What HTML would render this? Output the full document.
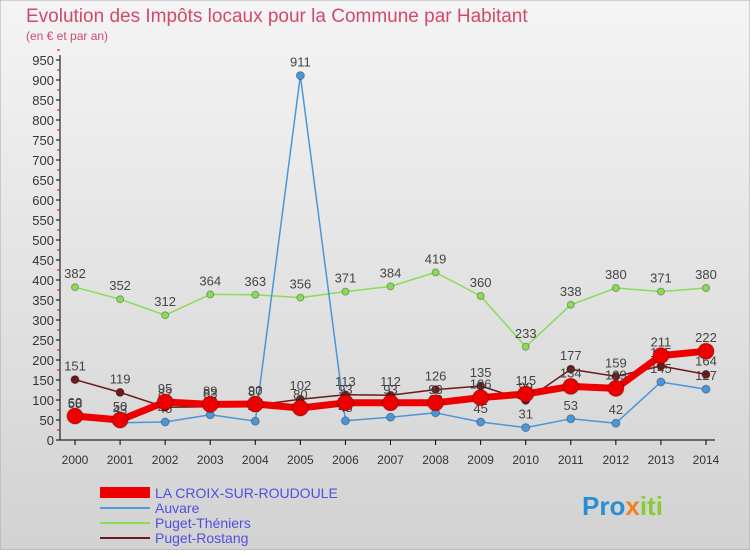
<!DOCTYPE html>
<html><head><meta charset="utf-8"><style>
body{margin:0;width:750px;height:550px;overflow:hidden;font-family:"Liberation Sans",sans-serif}
</style></head><body>
<svg width="750" height="550" xmlns="http://www.w3.org/2000/svg">
<defs><linearGradient id="bg" x1="0" y1="0" x2="0" y2="1"><stop offset="0" stop-color="#f4f4f4"/><stop offset="1" stop-color="#d2d2d2"/></linearGradient></defs>
<rect x="0" y="0" width="750" height="550" fill="url(#bg)" stroke="#aaa"/>
<text x="26" y="22" font-size="19" fill="#d24a6a">Evolution des Impôts locaux pour la Commune par Habitant</text>
<text x="26" y="40" font-size="12" fill="#d24a6a">(en € et par an)</text>
<g id="axes"></g>
<g id="series"></g>
<g id="legend">
<rect x="100" y="487" width="50" height="11" fill="#ee0000"/>
<text x="155" y="498" font-size="14" fill="#5050e0">LA CROIX-SUR-ROUDOULE</text>
<line x1="100" y1="508" x2="150" y2="508" stroke="#5599dd" stroke-width="2"/>
<text x="155" y="513" font-size="14" fill="#5050e0">Auvare</text>
<line x1="100" y1="523" x2="150" y2="523" stroke="#88dd55" stroke-width="2"/>
<text x="155" y="528" font-size="14" fill="#5050e0">Puget-Théniers</text>
<line x1="100" y1="538" x2="150" y2="538" stroke="#6b1a1a" stroke-width="2"/>
<text x="155" y="543" font-size="14" fill="#5050e0">Puget-Rostang</text>
</g>
<text x="582" y="515" font-size="26" font-weight="bold" fill="#2a8fd0">Pro<tspan fill="#f08020">x</tspan><tspan fill="#88cc33">iti</tspan></text>
</svg>
<script>
const years=[2000,2001,2002,2003,2004,2005,2006,2007,2008,2009,2010,2011,2012,2013,2014];
const croix=[60,50,95,89,90,80,93,93,93,106,115,134,129,211,222];
const auvare=[58,43,45,63,47,911,48,57,68,45,31,53,42,145,127];
const theniers=[382,352,312,364,363,356,371,384,419,360,233,338,380,371,380];
const rostang=[151,119,82,83,87,102,113,112,126,135,99,177,159,185,164];
const yTicks=[0,50,100,150,200,250,300,350,400,450,500,550,600,650,700,750,800,850,900,950];
const NS="http://www.w3.org/2000/svg";
const xs=i=>75+i*(706-75)/(years.length-1);
const ys=v=>440-v*(380/950);
function mk(t,a,p){const e=document.createElementNS(NS,t);for(const k in a)e.setAttribute(k,a[k]);(p||document.getElementById('series')).appendChild(e);return e;}
const ax=document.getElementById('axes');
let e=mk('line',{x1:60,y1:440,x2:60,y2:55,stroke:'#000'},ax);


e=mk('line',{x1:60,y1:440,x2:715,y2:440,stroke:'#000'},ax);


yTicks.forEach(v=>{
 let l=mk('line',{x1:56,y1:ys(v),x2:60,y2:ys(v),stroke:'#000'},ax);
 
 
 let m=mk('line',{x1:57,y1:ys(v+25),x2:60,y2:ys(v+25),stroke:'#e00'},ax);
 
 
 let t=mk('text',{x:54,y:ys(v)+5,'font-size':13,'text-anchor':'end',fill:'#333'},ax);t.textContent=v;
 
 
});
years.forEach((y,i)=>{
 let l=mk('line',{x1:xs(i),y1:440,x2:xs(i),y2:445,stroke:'#000'},ax);
 
 
 let t=mk('text',{x:xs(i),y:464,'font-size':12,'text-anchor':'middle',fill:'#333'},ax);t.textContent=y;
 
 
});
function series(d,color,w,r,name){
 let p=mk('polyline',{points:d.map((v,i)=>xs(i)+','+ys(v)).join(' '),fill:'none',stroke:color,'stroke-width':w,'stroke-linejoin':'round'});
 
 
 d.forEach((v,i)=>{
  let c=mk('circle',{cx:xs(i),cy:ys(v),r:r,fill:color,stroke:'rgba(0,0,0,0.3)'});
  
  
  let t=mk('text',{x:xs(i),y:ys(v)-9,'font-size':13,'text-anchor':'middle',fill:'#444'});t.textContent=v;
  
  
 });
}
series(theniers,'#88dd55',1.5,3.5,'puget-theniers');
series(auvare,'#4a96d8',1.5,4,'auvare');
series(rostang,'#6b1a1a',1.5,4,'puget-rostang');
series(croix,'#ee0000',7,8,'croix');
</script>
</body></html>
